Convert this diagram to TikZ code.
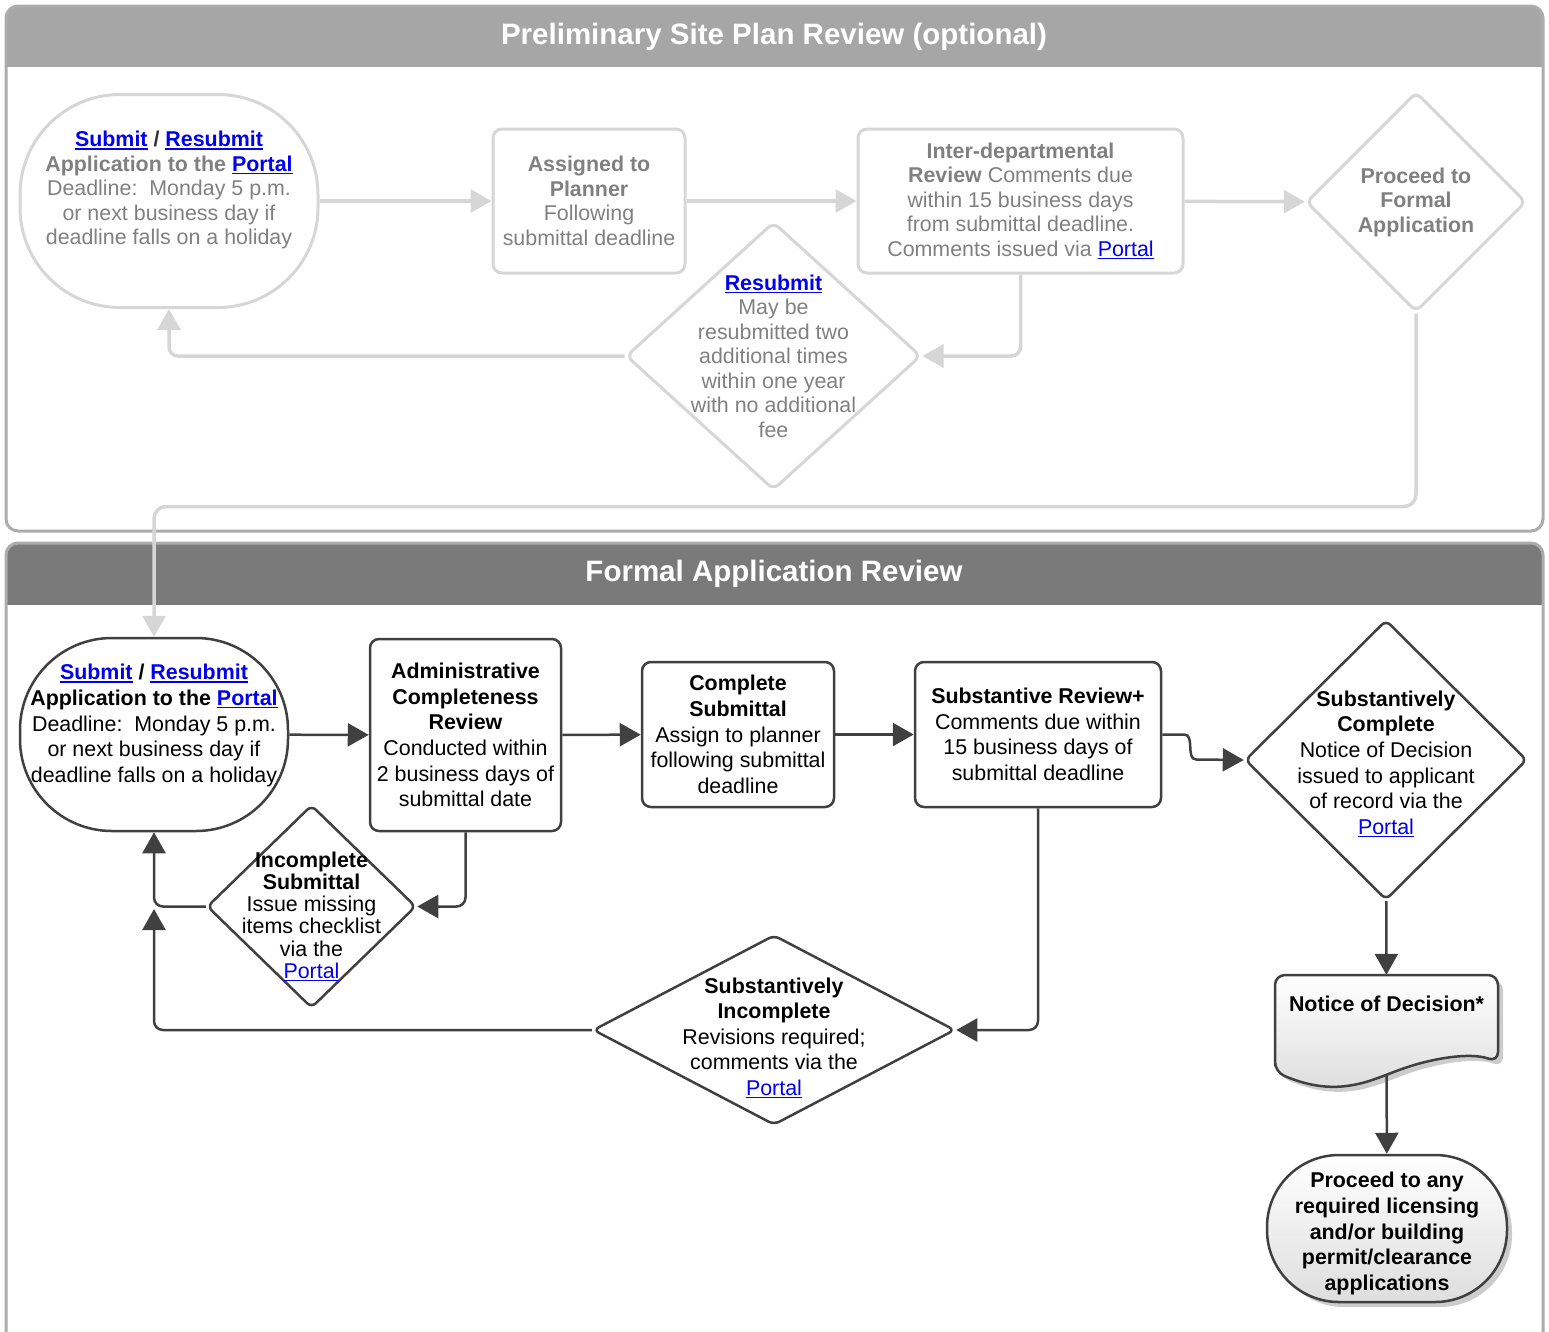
\documentclass[tikz,border=0pt]{standalone}
\usepackage{fontspec}
\setmainfont{Liberation Sans}
\usepackage{tikz}
\usetikzlibrary{shapes.geometric,arrows.meta,shadows,positioning}
\definecolor{lightline}{RGB}{214,214,214}
\definecolor{lighttext}{RGB}{128,128,128}
\definecolor{darkline}{RGB}{64,64,64}
\definecolor{linkblue}{RGB}{0,0,238}
\definecolor{tophead}{RGB}{166,166,166}
\definecolor{bothead}{RGB}{122,122,122}
\definecolor{panelline}{RGB}{172,172,172}
\newcommand{\txtfont}{\fontsize{21.4}{24.5}\selectfont}
\newcommand{\dtxtfont}{\fontsize{21.4}{25.6}\selectfont}
\newcommand{\lnk}[1]{{\color{linkblue}\setbox0\hbox{#1}\rlap{\rule[-3pt]{\wd0}{1.5pt}}\box0}}
\tikzset{
  ltxt/.style={text=lighttext,align=center,font=\txtfont},
  dtxt/.style={text=black,align=center,font=\dtxtfont},
  lbox/.style={draw=lightline,line width=3pt,rounded corners=9pt,ltxt,inner sep=2pt},
  loval/.style={draw=lightline,line width=3pt,inner sep=0pt},
  ldia/.style={diamond,draw=lightline,line width=3pt,rounded corners=7pt,inner sep=0pt},
  larr/.style={draw=lightline,line width=3.5pt,-{Triangle[length=21pt,width=23pt]}},
  dbox/.style={draw=darkline,line width=2.5pt,rounded corners=9pt,dtxt,inner sep=2pt},
  doval/.style={draw=darkline,line width=2.5pt,inner sep=0pt},
  ddia/.style={diamond,draw=darkline,line width=2.5pt,rounded corners=6pt,inner sep=0pt},
  darr/.style={draw=darkline,line width=2.5pt,-{Triangle[length=21pt,width=23pt]}},
  softshade/.style={top color=white,bottom color=black!13,
    drop shadow={shadow xshift=5pt,shadow yshift=-5pt,opacity=0.2,fill=black}},
  paneltitle/.style={text=white,font=\fontsize{29.5}{34}\selectfont\bfseries}
}

\begin{document}
\begin{tikzpicture}[x=1pt,y=-1pt]
\useasboundingbox (0,0) rectangle (1549,1331);

\begin{scope}
\clip[rounded corners=12] (6,6) rectangle (1543,531);
\fill[tophead] (6,6) rectangle (1543,67);
\end{scope}
\draw[panelline,line width=3pt,rounded corners=12] (6,6) rectangle (1543,531);
\node[paneltitle] (prelimtitle) at (774,37) {Preliminary Site Plan Review (optional)};

\begin{scope}
\clip[rounded corners=12] (6,543) rectangle (1543,1400);
\fill[bothead] (6,543) rectangle (1543,605);
\end{scope}
\draw[panelline,line width=3pt,rounded corners=12] (6,543) rectangle (1543,1400);
\node[paneltitle] (formaltitle) at (774,574) {Formal Application Review};

\node[loval,rounded corners=100pt,minimum width=298pt,minimum height=213pt,
  label={[ltxt,yshift=11pt]center:{\textbf{\lnk{Submit} \textcolor{black!80}{/} \lnk{Resubmit}}\\
  \textbf{Application to the \lnk{Portal}}\\ Deadline:\ \ Monday 5 p.m.\\
  or next business day if\\ deadline falls on a holiday}}] (presubmit) at (169,201) {};
\node[lbox,minimum width=192pt,minimum height=144pt] (assigned) at (589,201)
  {\textbf{Assigned to}\\ \textbf{Planner}\\ Following\\ submittal deadline};
\node[lbox,minimum width=325pt,minimum height=144pt] (interdept) at (1020.5,201)
  {\textbf{Inter-departmental}\\ \textbf{Review} Comments due\\ within 15 business days\\
  from submittal deadline.\\ Comments issued via \lnk{Portal}};
\node[ldia,minimum width=220pt,minimum height=220pt,
  label={[ltxt]center:{\textbf{Proceed to}\\ \textbf{Formal}\\ \textbf{Application}}}] (proceed) at (1416,202) {};
\node[ldia,minimum width=295pt,minimum height=268pt,
  label={[ltxt]center:{\textbf{\lnk{Resubmit}}\\ May be\\ resubmitted two\\ additional times\\
  within one year\\ with no additional\\ fee}}] (resubmit) at (773.5,356) {};

\draw[larr] (presubmit) -- (assigned);
\draw[larr] (assigned) -- (interdept);
\draw[larr] (interdept) -- (proceed);
\draw[larr,rounded corners=9] (interdept.south) |- (resubmit.east);
\draw[larr,rounded corners=9] (resubmit.west) -| (presubmit.south);

\node[doval,rounded corners=92pt,minimum width=268pt,minimum height=193pt,
  label={[dtxt,yshift=9pt]center:{\textbf{\lnk{Submit} / \lnk{Resubmit}}\\
  \textbf{Application to the \lnk{Portal}}\\ Deadline:\ \ Monday 5 p.m.\\
  or next business day if\\ deadline falls on a holiday}}] (formalsubmit) at (154,734.5) {};
\node[dbox,minimum width=191pt,minimum height=192pt] (admin) at (465.5,735)
  {\textbf{Administrative}\\ \textbf{Completeness}\\ \textbf{Review}\\ Conducted within\\
  2 business days of\\ submittal date};
\node[dbox,minimum width=192pt,minimum height=145pt] (complete) at (738,734.5)
  {\textbf{Complete}\\ \textbf{Submittal}\\ Assign to planner\\ following submittal\\ deadline};
\node[dbox,minimum width=246pt,minimum height=145pt] (substantive) at (1038,734.5)
  {\textbf{Substantive Review+}\\ Comments due within\\ 15 business days of\\ submittal deadline};
\node[ddia,minimum width=282pt,minimum height=280pt,
  label={[dtxt,yshift=-4pt]center:{\textbf{Substantively}\\ \textbf{Complete}\\ Notice of Decision\\
  issued to applicant\\ of record via the\\ \lnk{Portal}}}] (subcomplete) at (1386,760) {};
\node[ddia,minimum width=209pt,minimum height=203pt,
  label={[dtxt,font=\fontsize{21.4}{22.2}\selectfont,yshift=-10pt]center:{\textbf{Incomplete}\\
  \textbf{Submittal}\\ Issue missing\\ items checklist\\ via the\\ \lnk{Portal}}}] (incomplete) at (311.5,906.5) {};
\node[ddia,minimum width=362pt,minimum height=190pt,
  label={[dtxt,yshift=-8pt]center:{\textbf{Substantively}\\ \textbf{Incomplete}\\
  Revisions required;\\ comments via the\\ \lnk{Portal}}}] (subincomplete) at (774,1030) {};

\path[softshade,draw=darkline,line width=2.5pt,rounded corners=10]
  (1275,1072) -- (1275,975) -- (1498,975) -- (1498,1062)
  .. controls (1470,1052) and (1430,1058) .. (1386,1075)
  .. controls (1345,1090) and (1318,1090) .. cycle;
\node[minimum width=223pt,minimum height=100pt,inner sep=0pt,
  label={[dtxt,yshift=21pt]center:{\textbf{Notice of Decision*}}}] (decision) at (1386.5,1025) {};
\node[doval,softshade,rounded corners=72pt,minimum width=240pt,minimum height=147pt,
  label={[dtxt,yshift=-5pt]center:{\textbf{Proceed to any}\\ \textbf{required licensing}\\
  \textbf{and/or building}\\ \textbf{permit/clearance}\\ \textbf{applications}}}] (proceedany) at (1387,1228.5) {};

\coordinate (joinup) at (154,909);

\draw[larr,rounded corners=12] (proceed.south) -- ++(0,193) -| (formalsubmit.north);
\draw[darr] (formalsubmit) -- (admin);
\draw[darr] (admin) -- (complete);
\draw[darr] (complete) -- (substantive);
\draw[darr] (substantive.east) -- ++(22,0) to[out=0,in=180] ++(12,25) -- (subcomplete.west);
\draw[darr] (subcomplete) -- (decision);
\draw[darr] (decision) -- (proceedany);
\draw[darr,rounded corners=9] (admin.south) |- (incomplete.east);
\draw[darr,rounded corners=9] (incomplete.west) -| (formalsubmit.south);
\draw[darr,rounded corners=9] (substantive.south) |- (subincomplete.east);
\draw[darr,rounded corners=9] (subincomplete.west) -| (joinup);
\end{tikzpicture}
\end{document}
